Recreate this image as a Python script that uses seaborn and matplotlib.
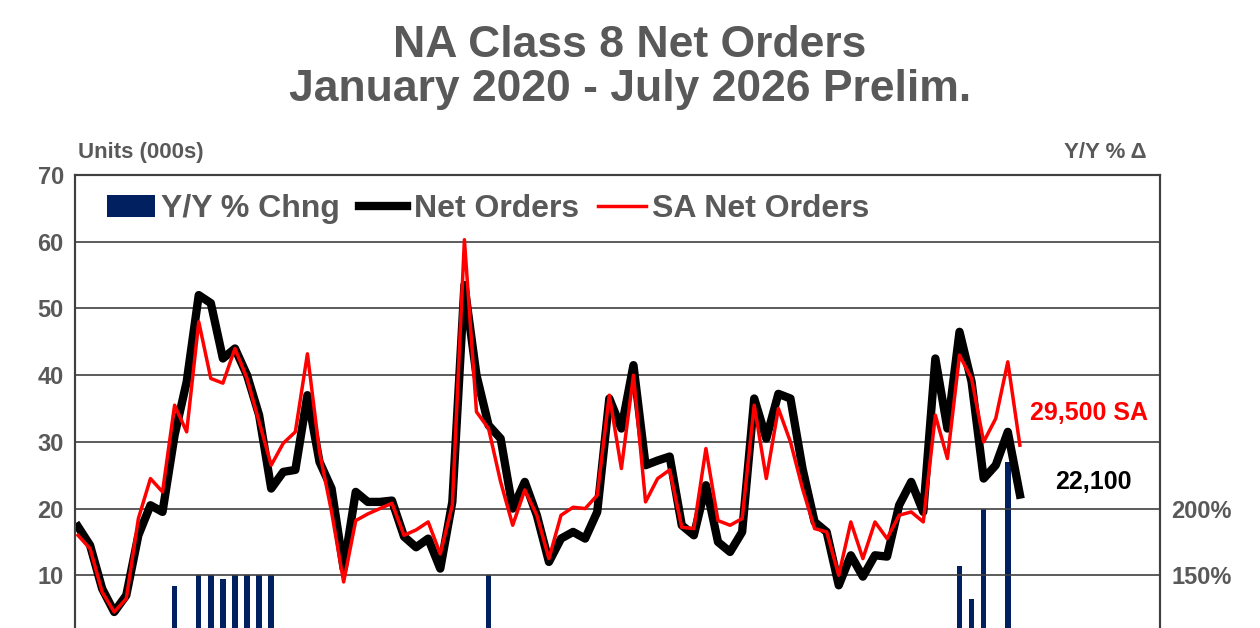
import numpy as np
import pandas as pd
import matplotlib
matplotlib.use("Agg")
import matplotlib.pyplot as plt
import seaborn as sns

# monthly values, Jan 2020 .. Jul 2026 (units in 000s)
net_orders = [17.3, 14.5, 8, 4.5, 7, 16, 20.5, 19.5, 31, 39, 52, 50.8, 42.5, 44, 40, 34,
              23, 25.5, 25.8, 37, 27, 23, 11, 22.5, 21, 21, 21.2, 15.8, 14.2, 15.5, 11, 21,
              53.5, 40, 32.5, 30.5, 20, 24, 19, 12, 15.5, 16.5, 15.5, 19.5, 36.5, 32, 41.5, 26.5,
              27.2, 27.8, 17.5, 16, 23.5, 15, 13.5, 16.5, 36.5, 30.5, 37.2, 36.5, 26, 18, 16.5, 8.5,
              13, 9.8, 13, 12.8, 20.5, 24, 19.5, 42.5, 32, 46.5, 39, 24.5, 26.5, 31.5, 22.1]
sa_orders = [16, 14, 7.5, 4.5, 6.5, 18.5, 24.5, 22.5, 35.5, 31.5, 48, 39.5, 38.8, 44, 39.5, 33,
             26.5, 29.8, 31.5, 43.2, 28.5, 19.5, 9, 18.2, 19.2, 20, 20.8, 16, 16.8, 18, 13.2, 20.5,
             60.3, 34.5, 32, 24, 17.5, 22.8, 19, 12.5, 19, 20.2, 20, 22, 37, 26, 40, 21,
             24.5, 25.8, 17.2, 17, 29, 18.2, 17.5, 18.5, 35.5, 24.5, 35, 30, 23, 17, 16.5, 10,
             18, 12.5, 18, 15.5, 19, 19.5, 18, 34, 27.5, 43, 39.5, 30, 33.5, 42, 29.5]
# Y/Y % change, only the months visible above the cropped bottom
yoy = {8: 142, 10: 150, 11: 150, 12: 147, 13: 150, 14: 150, 15: 150, 16: 150,
       34: 150, 73: 157, 74: 132, 75: 200, 77: 235}

months = np.arange(len(net_orders))
df = pd.DataFrame({"m": months, "net": net_orders, "sa": sa_orders})

plt.rcParams["font.family"] = ["Liberation Sans", "DejaVu Sans"]
plt.rcParams["font.weight"] = "bold"
gray = "#595959"

fig = plt.figure(figsize=(12.6, 6.28), dpi=100)
ax = fig.add_axes([0.0595, -0.0223, 0.8611, 0.7436])
ax2 = ax.twinx()

ax2.bar(list(yoy.keys()), list(yoy.values()), width=0.45, color="#002060",
        bottom=0, label="Y/Y % Chng", zorder=1)
ax2.set_ylim(100, 450)
ax2.set_yticks([150, 200])
ax2.set_yticklabels(["150%", "200%"])

ax.set_zorder(ax2.get_zorder() + 1)
ax.patch.set_visible(False)
for y in range(10, 70, 10):
    ax.axhline(y, color="#404040", lw=1.2, zorder=0)
sns.lineplot(data=df, x="m", y="net", ax=ax, color="black", lw=6, label="Net Orders")
sns.lineplot(data=df, x="m", y="sa", ax=ax, color="#ff0000", lw=2.5, label="SA Net Orders")
ax.set_xlim(-0.25, 89.6)
ax.set_ylim(0, 70)
ax.set_yticks(range(10, 71, 10))
ax.set_xticks([])
ax.set_xlabel("")
ax.set_ylabel("")

for a in (ax, ax2):
    a.tick_params(axis="y", length=0, labelsize=17, labelcolor=gray, pad=8)
    for s in a.spines.values():
        s.set_color("#404040")
        s.set_linewidth(1.5)

h1, l1 = ax2.get_legend_handles_labels()
h2, l2 = ax.get_legend_handles_labels()
ax.legend(h1 + h2, l1 + l2, loc="upper left", bbox_to_anchor=(0.003, 1.02), ncol=3,
          frameon=False, fontsize=23, labelcolor=gray, handlelength=1.5,
          handletextpad=0.2, columnspacing=0.6)

ax.text(78.8, 34.4, "29,500 SA", color="#ff0000", fontsize=18, fontweight="bold", va="center")
ax.text(80.9, 24.0, "22,100", color="black", fontsize=18, fontweight="bold", va="center")

fig.text(0.5, 0.96, "NA Class 8 Net Orders\nJanuary 2020 - July 2026 Prelim.",
         ha="center", va="top", fontsize=32, fontweight="bold", color=gray, linespacing=1.1)
fig.text(0.062, 0.74, "Units (000s)", fontsize=16, color=gray, fontweight="bold", va="bottom")
fig.text(0.91, 0.74, "Y/Y % Δ", fontsize=16, color=gray, fontweight="bold", va="bottom", ha="right")

fig.savefig("out.png", dpi=100)
